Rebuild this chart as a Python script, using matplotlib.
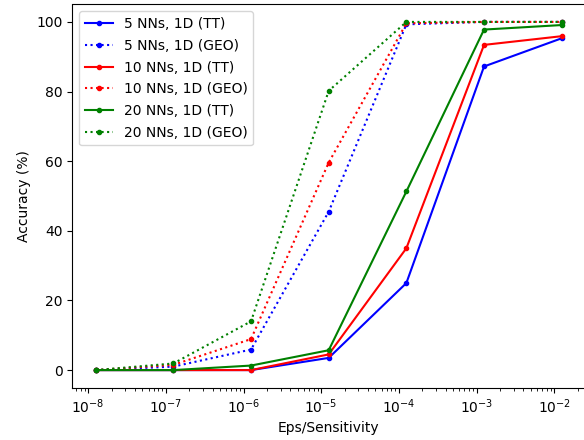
import matplotlib
matplotlib.use('Agg')
import matplotlib.pyplot as plt

# Eps/Sensitivity values on the x axis
eps = [1.25e-8, 1.25e-7, 1.25e-6, 1.25e-5, 1.25e-4, 1.25e-3, 1.25e-2]

# Accuracy (%) per configuration
acc_5_tt = [0.0, 0.0, 0.0, 3.5, 25.0, 87.2, 95.3]
acc_5_geo = [0.0, 1.0, 5.9, 45.5, 99.3, 100.0, 100.0]
acc_10_tt = [0.0, 0.0, 0.0, 4.5, 35.0, 93.4, 95.9]
acc_10_geo = [0.0, 1.5, 8.9, 59.6, 99.6, 100.0, 100.0]
acc_20_tt = [0.0, 0.0, 1.3, 5.7, 51.3, 97.8, 99.1]
acc_20_geo = [0.0, 1.9, 14.0, 80.2, 100.0, 100.0, 100.0]

fig = plt.figure(figsize=(5.84, 4.40), dpi=100)
ax = fig.add_axes([72.4 / 584, 1 - 387.5 / 440, 512.6 / 584, 383 / 440])

ax.plot(eps, acc_5_tt, color='blue', marker='.', linestyle='-', label='5 NNs, 1D (TT)')
ax.plot(eps, acc_5_geo, color='blue', marker='.', linestyle=':', label='5 NNs, 1D (GEO)')
ax.plot(eps, acc_10_tt, color='red', marker='.', linestyle='-', label='10 NNs, 1D (TT)')
ax.plot(eps, acc_10_geo, color='red', marker='.', linestyle=':', label='10 NNs, 1D (GEO)')
ax.plot(eps, acc_20_tt, color='green', marker='.', linestyle='-', label='20 NNs, 1D (TT)')
ax.plot(eps, acc_20_geo, color='green', marker='.', linestyle=':', label='20 NNs, 1D (GEO)')

ax.set_xscale('log')
ax.set_xlabel('Eps/Sensitivity')
ax.set_ylabel('Accuracy (%)')
ax.legend(loc='upper left', labelspacing=0.56)

fig.savefig('out.png', dpi=100)
